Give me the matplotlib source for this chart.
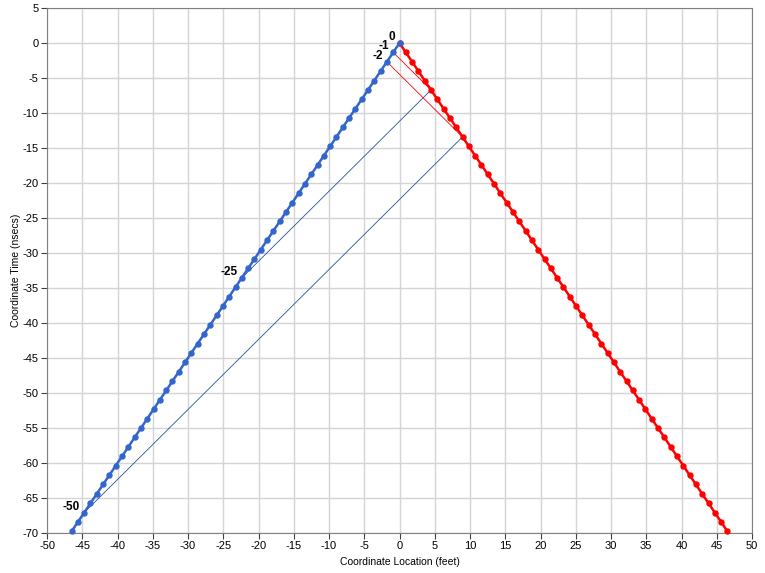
import matplotlib
matplotlib.use("Agg")
import matplotlib.pyplot as plt

plt.rcParams["font.family"] = ["Liberation Sans", "DejaVu Sans"]
plt.rcParams["axes.unicode_minus"] = False

# coordinate time of each clock tick (proper time 0, -1, ..., -52), nsecs
tick_t = [0, -1.34, -2.68, -4.02, -5.37, -6.71, -8.05, -9.39, -10.73, -12.07,
          -13.42, -14.76, -16.10, -17.44, -18.78, -20.12, -21.47, -22.81, -24.15,
          -25.49, -26.83, -28.17, -29.52, -30.86, -32.20, -33.54, -34.88, -36.22,
          -37.57, -38.91, -40.25, -41.59, -42.93, -44.27, -45.62, -46.96, -48.30,
          -49.64, -50.98, -52.32, -53.67, -55.01, -56.35, -57.69, -59.03, -60.37,
          -61.72, -63.06, -64.40, -65.74, -67.08, -68.42, -69.77]
# location of the blue clock at each tick (feet); red clock mirrors it
blue_x = [0, -0.89, -1.79, -2.68, -3.58, -4.47, -5.37, -6.26, -7.16, -8.05,
          -8.94, -9.84, -10.73, -11.63, -12.52, -13.42, -14.31, -15.21, -16.10,
          -16.99, -17.89, -18.78, -19.68, -20.57, -21.47, -22.36, -23.26, -24.15,
          -25.04, -25.94, -26.83, -27.73, -28.62, -29.52, -30.41, -31.30, -32.20,
          -33.09, -33.99, -34.88, -35.78, -36.67, -37.57, -38.46, -39.35, -40.25,
          -41.14, -42.04, -42.93, -43.83, -44.72, -45.62, -46.51]
red_x = [-x for x in blue_x]

# radar echoes: sent at blue tick, bounced at red tick, received at blue tick
sent_ticks = [25, 50]
bounce_ticks = [5, 10]
recv_ticks = [1, 2]

label_ticks = [0, 1, 2, 25, 50]
label_text = ["0", "-1", "-2", "-25", "-50"]

blue = "#3366CC"
red = "#FF0000"

fig = plt.figure(figsize=(7.65, 5.73), dpi=100)
ax = fig.add_axes([47 / 765, 40 / 573, 705 / 765, 525 / 573])

for s, b, r in zip(sent_ticks, bounce_ticks, recv_ticks):
    ax.plot([blue_x[s], red_x[b]], [tick_t[s], tick_t[b]], color="#2a4fa0", lw=0.6, zorder=2)
    ax.plot([red_x[b], blue_x[r]], [tick_t[b], tick_t[r]], color=red, lw=0.6, zorder=2)

ax.plot(red_x, tick_t, color=red, lw=1.8, marker="o", ms=3.6, clip_on=False, zorder=3)
ax.plot(blue_x, tick_t, color=blue, lw=1.8, marker="o", ms=3.6, clip_on=False, zorder=4)

for k, txt in zip(label_ticks, label_text):
    ax.annotate(txt, (blue_x[k], tick_t[k]), xytext=(-3, 0), textcoords="offset points",
                ha="right", va="bottom", fontsize=8.5, fontweight="bold")

ax.set_xlim(-50, 50)
ax.set_ylim(-70, 5)
ax.set_xticks(range(-50, 51, 5))
ax.set_yticks(range(-70, 6, 5))
ax.grid(True, color="#d4d4d4", lw=1)
ax.set_axisbelow(True)
for sp in ax.spines.values():
    sp.set_color("#808080")
ax.tick_params(labelsize=8, length=4, color="#404040", pad=2)
ax.set_xlabel("Coordinate Location (feet)", fontsize=7.5, labelpad=4)
ax.set_ylabel("Coordinate Time (nsecs)", fontsize=7.5, labelpad=1)

fig.savefig("out.png", dpi=100)
